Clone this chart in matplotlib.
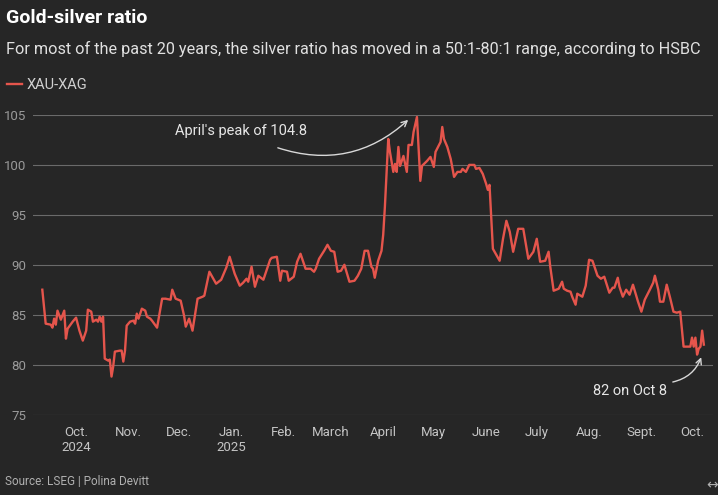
import matplotlib
matplotlib.use("Agg")
import matplotlib.pyplot as plt
import pandas as pd

# ---------- data ----------
dates = [
    "2024-09-11", "2024-09-13", "2024-09-16", "2024-09-17", "2024-09-18", "2024-09-19",
    "2024-09-20", "2024-09-22", "2024-09-24", "2024-09-25", "2024-09-26", "2024-09-29",
    "2024-10-01", "2024-10-03", "2024-10-05", "2024-10-07", "2024-10-08", "2024-10-10",
    "2024-10-11", "2024-10-13", "2024-10-14", "2024-10-15", "2024-10-16", "2024-10-17",
    "2024-10-18", "2024-10-20", "2024-10-21", "2024-10-22", "2024-10-23", "2024-10-24",
    "2024-10-27", "2024-10-28", "2024-10-29", "2024-10-30", "2024-10-31", "2024-11-02",
    "2024-11-04", "2024-11-05", "2024-11-06", "2024-11-07", "2024-11-09", "2024-11-11",
    "2024-11-12", "2024-11-14", "2024-11-15", "2024-11-18", "2024-11-21", "2024-11-23",
    "2024-11-26", "2024-11-27", "2024-11-29", "2024-12-02", "2024-12-04", "2024-12-05",
    "2024-12-07", "2024-12-09", "2024-12-12", "2024-12-15", "2024-12-16", "2024-12-19",
    "2024-12-23", "2024-12-26", "2024-12-29", "2024-12-31", "2025-01-03", "2025-01-06",
    "2025-01-08", "2025-01-10", "2025-01-11", "2025-01-13", "2025-01-15", "2025-01-17",
    "2025-01-20", "2025-01-22", "2025-01-24", "2025-01-25", "2025-01-28", "2025-01-30",
    "2025-01-31", "2025-02-03", "2025-02-04", "2025-02-07", "2025-02-09", "2025-02-11",
    "2025-02-13", "2025-02-14", "2025-02-17", "2025-02-19", "2025-02-20", "2025-02-22",
    "2025-02-25", "2025-02-27", "2025-03-01", "2025-03-03", "2025-03-05", "2025-03-07",
    "2025-03-09", "2025-03-12", "2025-03-15", "2025-03-17", "2025-03-19", "2025-03-21",
    "2025-03-23", "2025-03-25", "2025-03-26", "2025-03-27", "2025-03-29", "2025-03-31",
    "2025-04-01", "2025-04-02", "2025-04-04", "2025-04-05", "2025-04-07", "2025-04-08",
    "2025-04-09", "2025-04-10", "2025-04-11", "2025-04-13", "2025-04-15", "2025-04-16",
    "2025-04-18", "2025-04-19", "2025-04-21", "2025-04-22", "2025-04-23", "2025-04-24",
    "2025-04-27", "2025-04-29", "2025-05-01", "2025-05-02", "2025-05-05", "2025-05-06",
    "2025-05-07", "2025-05-09", "2025-05-11", "2025-05-13", "2025-05-15", "2025-05-17",
    "2025-05-18", "2025-05-20", "2025-05-22", "2025-05-25", "2025-05-26", "2025-05-28",
    "2025-05-30", "2025-06-01", "2025-06-02", "2025-06-03", "2025-06-05", "2025-06-07",
    "2025-06-09", "2025-06-11", "2025-06-13", "2025-06-15", "2025-06-17", "2025-06-20",
    "2025-06-23", "2025-06-26", "2025-06-29", "2025-07-01", "2025-07-03", "2025-07-06",
    "2025-07-08", "2025-07-09", "2025-07-11", "2025-07-14", "2025-07-16", "2025-07-17",
    "2025-07-19", "2025-07-21", "2025-07-22", "2025-07-24", "2025-07-25", "2025-07-26",
    "2025-07-28", "2025-07-30", "2025-08-01", "2025-08-03", "2025-08-06", "2025-08-08",
    "2025-08-10", "2025-08-13", "2025-08-15", "2025-08-16", "2025-08-18", "2025-08-19",
    "2025-08-21", "2025-08-23", "2025-08-25", "2025-08-27", "2025-08-30", "2025-09-01",
    "2025-09-03", "2025-09-06", "2025-09-08", "2025-09-09", "2025-09-11", "2025-09-12",
    "2025-09-14", "2025-09-16", "2025-09-18", "2025-09-20", "2025-09-22", "2025-09-24",
    "2025-09-26", "2025-09-28", "2025-09-30", "2025-10-01", "2025-10-02", "2025-10-03",
    "2025-10-04", "2025-10-05", "2025-10-06", "2025-10-07", "2025-10-08",
]
ratio = [
    87.5, 84.1, 84.0, 83.7, 84.6, 84.0,
    85.4, 84.5, 85.4, 82.6, 83.6, 84.3,
    84.7, 83.4, 82.4, 83.4, 85.5, 85.3,
    84.3, 84.5, 84.3, 84.8, 84.3, 84.8,
    80.6, 80.4, 80.5, 78.8, 79.8, 81.3,
    81.4, 81.4, 80.3, 81.4, 83.9, 84.3,
    84.4, 84.1, 85.1, 84.6, 85.6, 85.4,
    84.8, 84.6, 84.4, 83.7, 86.6, 86.6,
    86.5, 87.5, 86.6, 86.4, 84.9, 83.8,
    84.6, 83.4, 86.6, 86.8, 86.9, 89.3,
    88.1, 88.5, 89.7, 90.8, 89.1, 87.9,
    88.2, 88.6, 88.3, 89.8, 87.8, 88.9,
    88.5, 89.5, 90.5, 90.7, 90.8, 88.4,
    89.4, 89.3, 88.4, 88.8, 90.3, 91.1,
    90.1, 89.6, 89.6, 89.3, 89.6, 90.6,
    91.4, 92.0, 91.4, 91.3, 89.3, 89.4,
    90.0, 88.3, 88.4, 88.9, 89.6, 91.4,
    91.4, 89.8, 89.6, 88.7, 90.4, 91.4,
    93.0, 95.8, 102.6, 101.3, 99.3, 100.1,
    99.3, 101.8, 99.9, 100.9, 99.3, 102.0,
    102.0, 103.3, 104.8, 101.6, 98.4, 99.9,
    100.4, 100.8, 99.8, 101.3, 102.3, 103.8,
    102.6, 101.8, 100.6, 98.8, 99.3, 99.3,
    99.6, 99.3, 100.0, 100.0, 99.6, 99.7,
    99.1, 98.1, 97.5, 98.0, 91.6, 91.0,
    90.4, 92.6, 94.4, 93.3, 91.3, 93.6,
    93.6, 90.6, 91.3, 92.6, 90.3, 90.4,
    91.3, 89.8, 87.4, 87.6, 88.3, 87.6,
    87.4, 87.3, 86.8, 86.0, 87.1, 87.0,
    86.8, 87.9, 90.5, 90.4, 88.9, 88.6,
    88.8, 87.2, 87.7, 87.7, 88.7, 87.8,
    86.8, 87.5, 87.0, 88.0, 86.3, 85.3,
    86.5, 87.5, 88.2, 88.9, 87.5, 86.3,
    86.3, 88.0, 86.7, 85.3, 85.2, 85.3,
    81.8, 81.8, 81.8, 82.7, 81.8, 82.7,
    81.0, 81.6, 81.8, 83.4, 82.0,
]

tick_dates = ["2024-10-01", "2024-11-01", "2024-12-01", "2025-01-01", "2025-02-01",
              "2025-03-01", "2025-04-01", "2025-05-01", "2025-06-01", "2025-07-01",
              "2025-08-01", "2025-09-01", "2025-10-01"]
tick_labels = ["Oct.\n2024", "Nov.", "Dec.", "Jan.\n2025", "Feb.", "March", "April",
               "May", "June", "July", "Aug.", "Sept.", "Oct."]
y_ticks = [75, 80, 85, 90, 95, 100, 105]

# ---------- style ----------
BG = "#262626"
RED = "#e5554c"
GRID = "#6a6a6a"
plt.rcParams["font.family"] = ["Roboto", "DejaVu Sans"]

x = pd.to_datetime(dates)

fig = plt.figure(figsize=(7.18, 4.95), dpi=100, facecolor=BG)
ax = fig.add_axes([0.046, 0.1626, 0.947, 0.6051], facecolor=BG)

line, = ax.plot(x, ratio, color=RED, lw=1.7, clip_on=False, zorder=3)

ax.set_ylim(75, 105)
ax.set_xlim(pd.Timestamp("2024-09-05 12:00"), pd.Timestamp("2025-10-13 10:00"))
ax.set_yticks(y_ticks)
ax.set_xticks(pd.to_datetime(tick_dates))
ax.set_xticklabels(tick_labels)
ax.grid(axis="y", color=GRID, lw=0.8)
ax.set_axisbelow(True)
for sp in ax.spines.values():
    sp.set_visible(False)
ax.tick_params(axis="both", length=0, colors="#c4c4c4", labelsize=9.5)
ax.tick_params(axis="x", pad=8)
ax.tick_params(axis="y", pad=5)
for lbl in ax.get_yticklabels():
    lbl.set_color("#9a9a9a")

# ---------- annotations ----------
ax.text(pd.Timestamp("2025-01-07"), 103.4, "April's peak of 104.8", color="#e6e6e6",
        fontsize=10.5, ha="center", va="center")
ax.annotate("", xy=(pd.Timestamp("2025-04-17"), 104.7),
            xytext=(pd.Timestamp("2025-01-27"), 101.8),
            arrowprops=dict(arrowstyle="->", color="#d8d8d8", lw=1.0,
                            connectionstyle="arc3,rad=0.3"))
ax.text(pd.Timestamp("2025-08-25"), 77.4, "82 on Oct 8", color="#e6e6e6",
        fontsize=10.5, ha="center", va="center")
ax.annotate("", xy=(pd.Timestamp("2025-10-07"), 81.0),
            xytext=(pd.Timestamp("2025-09-18"), 78.2),
            arrowprops=dict(arrowstyle="->", color="#d8d8d8", lw=1.0,
                            connectionstyle="arc3,rad=0.3"))

# ---------- titles, legend, source ----------
fig.text(0.009, 0.963, "Gold-silver ratio", color="white", fontsize=14,
         fontweight="bold", va="center")
fig.text(0.008, 0.902, "For most of the past 20 years, the silver ratio has moved in a "
         "50:1-80:1 range, according to HSBC", color="#e0e0e0", fontsize=11.7, va="center")
fig.legend([line], ["XAU-XAG"], loc="center left", bbox_to_anchor=(-0.008, 0.828),
           frameon=False, handlelength=1.0, handletextpad=0.3, fontsize=10.5,
           labelcolor="#d0d0d0")
fig.text(0.007, 0.028, "Source: LSEG | Polina Devitt", color="#b0b0b0", fontsize=8.5,
         va="center")
fig.text(0.983, 0.02, "\u2194", color="#b0b0b0", fontsize=10, va="center",
         family="DejaVu Sans")

fig.savefig("out.png", dpi=100, facecolor=BG)
